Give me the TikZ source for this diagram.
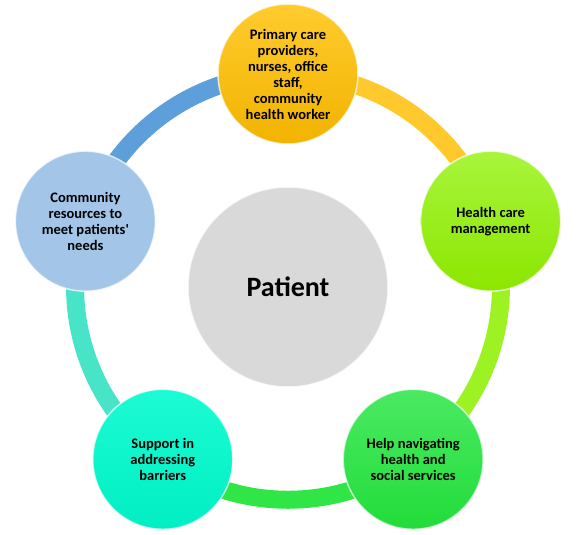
\documentclass[tikz,border=0pt]{standalone}
\usepackage{fontspec}
\setmainfont{Carlito}
\usetikzlibrary{backgrounds}
\definecolor{goldtop}{HTML}{FFCB2E}
\definecolor{goldbot}{HTML}{F2B300}
\definecolor{limetop}{HTML}{A8F53C}
\definecolor{limebot}{HTML}{8CE600}
\definecolor{greentop}{HTML}{4AEA62}
\definecolor{greenbot}{HTML}{22DC3A}
\definecolor{aquatop}{HTML}{1CFBD4}
\definecolor{aquabot}{HTML}{00EFC2}
\definecolor{skyblue}{HTML}{A2C5E8}
\definecolor{patgray}{HTML}{D9D9D9}
\definecolor{ringgold}{HTML}{FFC82C}
\definecolor{ringlime}{HTML}{9CF222}
\definecolor{ringgreen}{HTML}{30E646}
\definecolor{ringaqua}{HTML}{48E4C8}
\definecolor{ringblue}{HTML}{5C9FDA}

\begin{document}
\begin{tikzpicture}[x=1pt, y=1pt,
    every node/.style={circle, minimum size=140pt, inner sep=0pt, align=center,
      draw=white, draw opacity=0.7, line width=1.5pt,
      font=\bfseries\fontsize{14.5}{16}\selectfont},
    ring/.style={line width=18pt, bend left=36, looseness=0.94}]
      \useasboundingbox (0,0) rectangle (576,535);
      \node[fill=patgray, minimum size=200pt, font=\bfseries\fontsize{28}{30}\selectfont] (patient) at (288,248) {Patient};
      \node[top color=goldtop, bottom color=goldbot] (care) at (288,461) {Primary care\\providers,\\nurses, office\\staff,\\community\\health worker};
      \node[top color=limetop, bottom color=limebot] (mgmt) at (490.6,313.8) {Health care\\management};
      \node[top color=greentop, bottom color=greenbot] (nav) at (413.2,75.7) {Help navigating\\health and\\social services};
      \node[top color=aquatop, bottom color=aquabot] (support) at (162.8,75.7) {Support in\\addressing\\barriers};
      \node[fill=skyblue] (community) at (85.4,313.8) {Community\\resources to\\meet patients\textquotesingle\\needs};
      \begin{scope}[on background layer]
        \draw[ring, ringgold] (care.center) to (mgmt.center);
        \draw[ring, ringlime] (mgmt.center) to (nav.center);
        \draw[ring, ringgreen] (nav.center) to (support.center);
        \draw[ring, ringaqua] (support.center) to (community.center);
        \draw[ring, ringblue] (community.center) to (care.center);
      \end{scope}
    \end{tikzpicture}
\end{document}
